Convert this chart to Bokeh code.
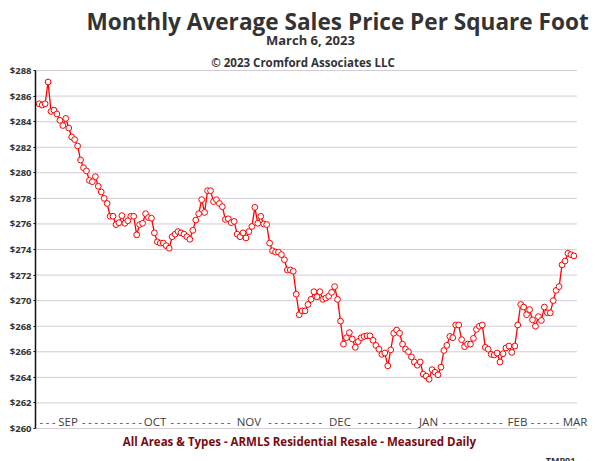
from bokeh.plotting import figure
from bokeh.models import Label, Range1d, FixedTicker, CustomJSTickFormatter
from bokeh.embed import file_html
from bokeh.resources import INLINE

# ---- data ----
values = [
    285.4, 285.3, 285.4, 287.1, 284.8, 284.9, 284.6, 284.1, 283.7, 284.25,
    283.5, 282.8, 282.6, 282.1, 281.0, 280.4, 280.15, 279.4, 279.3, 279.7,
    278.95, 278.5, 278.0, 277.6, 276.6, 276.6, 275.95, 276.1, 276.65, 276.05,
    276.25, 276.6, 276.6, 275.15, 275.95, 276.05, 276.8, 276.5, 276.45, 275.3,
    274.6, 274.5, 274.5, 274.3, 274.1, 275.0, 275.2, 275.4, 275.3, 275.2,
    275.0, 274.8, 275.5, 276.3, 276.8, 277.9, 276.9, 278.6, 278.6, 277.75,
    277.9, 277.6, 277.35, 276.35, 276.4, 276.1, 276.2, 275.2, 275.0, 275.3,
    274.9, 275.4, 275.8, 277.3, 276.05, 276.6, 276.0, 275.95, 274.5, 273.9,
    273.8, 273.8, 273.6, 273.2, 272.4, 272.4, 272.3, 270.5, 268.9, 269.2,
    269.2, 269.7, 270.1, 270.7, 270.3, 270.7, 270.1, 270.2, 270.35, 270.65,
    271.1, 270.1, 268.4, 266.6, 267.1, 267.5, 267.0, 266.35, 266.8, 267.1,
    267.2, 267.25, 267.25, 266.9, 266.5, 266.2, 265.8, 265.9, 264.9, 266.15,
    267.45, 267.7, 267.45, 266.6, 266.2, 266.0, 265.6, 265.2, 264.95, 265.2,
    264.25, 264.1, 263.85, 264.6, 264.4, 264.2, 264.8, 266.1, 266.5, 267.2,
    267.1, 268.1, 268.1, 266.95, 266.4, 266.6, 266.6, 267.05, 267.75, 268.0,
    268.1, 266.35, 266.2, 265.8, 265.75, 265.9, 265.2, 265.85, 266.3, 266.45,
    265.95, 266.45, 268.1, 269.7, 269.5, 268.9, 269.3, 268.5, 268.0, 268.75,
    268.45, 269.5, 269.05, 269.05, 270.0, 270.8, 271.1, 272.8, 273.1, 273.7,
    273.6, 273.5,
]
days = list(range(len(values)))

month_names = ["SEP", "OCT", "NOV", "DEC", "JAN", "FEB", "MAR"]
month_pos = [9.75, 39.2, 71.0, 101.8, 131.8, 161.9, 181.4]
dash_counts = [3, 10, 10, 9, 9, 10, 5]
dash_pos = [2.8, 24.6, 54.6, 86.6, 116.9, 146.7, 171.2]

y_min, y_max = 260, 288
y_ticks = list(range(y_min, y_max + 1, 2))
x_first, x_last = -1.25, 182.23   # extent of the chart grid (day index)

title_text = "Monthly Average Sales Price Per Square Foot"
date_text = "March 6, 2023"
copy_text = "\u00a9 2023 Cromford Associates LLC"
foot_text = "All Areas & Types - ARMLS Residential Resale - Measured Daily"
code_text = "TMP01"

FONT = "Open Sans"
DARK = "#333333"

p = figure(width=595, height=461, output_backend="svg", toolbar_location=None,
           x_axis_location=None, y_axis_location="left",
           x_range=Range1d(-1.2525, 188.32), y_range=Range1d(257.418, 293.477),
           min_border_left=35, min_border_right=0, min_border_top=0,
           min_border_bottom=0)
p.outline_line_color = None
p.background_fill_color = "white"
p.border_fill_color = "white"
p.xgrid.visible = False
p.ygrid.visible = False

# horizontal dotted grid lines over the chart extent
p.segment(x0=[x_first] * len(y_ticks), x1=[x_last] * len(y_ticks),
          y0=y_ticks, y1=y_ticks, line_color="#a698ac", line_dash="1 1",
          line_width=1)

ax = p.yaxis[0]
ax.ticker = FixedTicker(ticks=y_ticks)
ax.bounds = (y_min, y_max)
ax.formatter = CustomJSTickFormatter(code="return '$' + tick;")
ax.axis_line_color = "#111111"
ax.axis_line_width = 1.5
ax.major_tick_out = 2
ax.major_tick_in = 0
ax.minor_tick_line_color = None
ax.major_tick_line_color = "#111111"
ax.major_label_standoff = 2
ax.major_label_text_font = FONT
ax.major_label_text_font_style = "bold"
ax.major_label_text_font_size = "9.5px"
ax.major_label_text_color = DARK

p.line(days, values, line_color="#ff0000", line_width=1.3)
p.scatter(days, values, size=5.8, marker="circle", fill_color="white",
          line_color="#ff0000", line_width=1)

# month labels along bottom of plot
for name, xp in zip(month_names, month_pos):
    p.add_layout(Label(x=xp, y=260.53, text=name, text_align="center",
                       text_baseline="middle", text_font=FONT,
                       text_font_size="11.5px", text_color="#404040"))
for n, xp in zip(dash_counts, dash_pos):
    p.add_layout(Label(x=xp, y=260.53, text=" ".join(["-"] * n), text_align="center",
                       text_baseline="middle", text_font=FONT,
                       text_font_size="10.8px", text_color="#404040"))

# titles
p.add_layout(Label(x=101.0, y=291.84, text=title_text, text_align="center",
                   text_baseline="alphabetic", text_font=FONT, text_font_style="bold",
                   text_font_size="22.6px", text_color=DARK))
p.add_layout(Label(x=91.8, y=290.35, text=date_text, text_align="center",
                   text_baseline="alphabetic", text_font=FONT, text_font_style="bold",
                   text_font_size="13px", text_color=DARK))
p.add_layout(Label(x=89.3, y=288.59, text=copy_text, text_align="center",
                   text_baseline="alphabetic", text_font=FONT, text_font_style="bold",
                   text_font_size="11.5px", text_color=DARK))
p.add_layout(Label(x=88.1, y=258.97, text=foot_text, text_align="center",
                   text_baseline="alphabetic", text_font=FONT, text_font_style="bold",
                   text_font_size="11.5px", text_color="#7a0a10"))
p.add_layout(Label(x=181.5, y=257.49, text=code_text, text_align="right",
                   text_baseline="alphabetic", text_font=FONT, text_font_style="bold",
                   text_font_size="9px", text_color=DARK))

open("out.html", "w").write(file_html(p, INLINE))
